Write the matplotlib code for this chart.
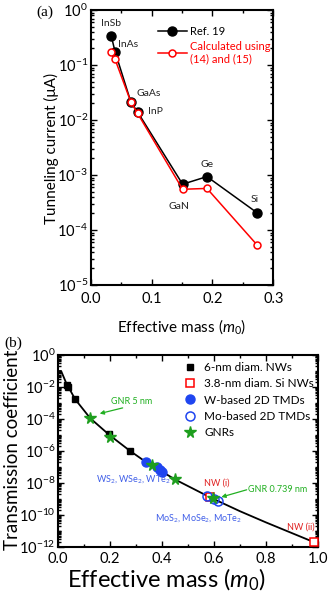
import numpy as np
import matplotlib
matplotlib.use("Agg")
import matplotlib.pyplot as plt
from matplotlib.ticker import FixedLocator, LogLocator, MultipleLocator, FuncFormatter, NullFormatter

plt.rcParams["font.family"] = ["Lato", "DejaVu Sans"]
plt.rcParams["mathtext.fontset"] = "custom"
plt.rcParams["mathtext.rm"] = "Lato"
plt.rcParams["mathtext.it"] = "Lato:italic"

# ---- panel (a) data ----
materials = ["InSb", "InAs", "GaAs", "InP", "GaN", "Ge", "Si"]
mass_a = [0.034, 0.040, 0.066, 0.077, 0.151, 0.191, 0.273]
ref19 = [0.33, 0.175, 0.0212, 0.014, 6.8e-4, 9.35e-4, 2.07e-4]
calc = [0.175, 0.127, 0.0212, 0.0132, 5.5e-4, 5.7e-4, 5.4e-5]

# ---- panel (b) data ----
curve_m = [0.0, 0.012, 0.034, 0.040, 0.066, 0.124, 0.195, 0.201, 0.276,
           0.34, 0.40, 0.45, 0.585, 0.70, 0.80, 0.985]
curve_logT = [-1.0, -1.0, -1.85, -2.0, -2.77, -3.96, -4.97, -5.05, -5.99,
              -6.72, -7.3, -7.79, -8.91, -9.78, -10.48, -11.72]
nw6_m = [0.034, 0.040, 0.066, 0.195, 0.276]
nw6_logT = [-1.85, -2.0, -2.77, -4.97, -5.99]
si38_m = [0.585, 0.985]
si38_logT = [-8.91, -11.72]
w_m = [0.340, 0.379, 0.392, 0.401]
w_logT = [-6.72, -7.03, -7.2, -7.31]
mo_m = [0.573, 0.60, 0.614]
mo_logT = [-8.83, -9.0, -9.14]
gnr_m = [0.124, 0.201, 0.362, 0.45, 0.595]
gnr_logT = [-3.96, -5.11, -6.89, -7.79, -8.97]

W, H = 329, 595
fig = plt.figure(figsize=(W / 100, H / 100), dpi=100)


def box(l, t, r, b):
    return [l / W, 1 - b / H, (r - l) / W, (b - t) / H]


def style_axes(ax):
    for s in ax.spines.values():
        s.set_linewidth(1.5)
    ax.tick_params(which="both", direction="in", top=True, right=True, width=1.0)
    ax.tick_params(which="major", length=4)
    ax.tick_params(which="minor", length=2)


# ================= (a) =================
ax1 = fig.add_axes(box(90.7, 10, 273.3, 285))
ax1.plot(mass_a, ref19, "-o", color="black", lw=1.1, ms=6.5, label="Ref. 19")
ax1.plot(mass_a, calc, "-o", color="red", lw=1.1, ms=5, mfc="white", mec="red",
         mew=1.1, label="Calculated using\n(14) and (15)")
ax1.set_yscale("log")
ax1.set_xlim(0, 0.3)
ax1.set_ylim(1e-5, 1)
ax1.xaxis.set_major_locator(MultipleLocator(0.1))
ax1.xaxis.set_minor_locator(MultipleLocator(0.05))
ax1.yaxis.set_minor_locator(LogLocator(base=10, subs=np.arange(2, 10), numticks=100))
ax1.yaxis.set_minor_formatter(NullFormatter())
ax1.xaxis.set_major_formatter(FuncFormatter(lambda v, p: f"{v:.1f}"))
style_axes(ax1)
ax1.tick_params(labelsize=10.5, pad=2)
ax1.tick_params(axis="x", pad=5)
ax1.set_ylabel("Tunneling current (\u03bcA)", fontsize=11)
ax1.yaxis.set_label_coords(59 / W, 1 - 148 / H, transform=fig.transFigure)
ax1.set_xlabel("Effective mass ($m_0$)", fontsize=11)
ax1.xaxis.set_label_coords(182 / W, 1 - 317 / H, transform=fig.transFigure)

offsets = [(0, 13), (13, 7), (18, 9), (18, 0), (-4, -22), (0, 12), (-2, 13)]
for name, x, y, off in zip(materials, mass_a, ref19, offsets):
    ax1.annotate(name, (x, y), xytext=off, textcoords="offset pixels",
                 ha="center", va="center", fontsize=7.5, color="#222222")

leg1 = ax1.legend(loc="upper left", bbox_to_anchor=(158 / W, 1 - 26 / H),
                  bbox_transform=fig.transFigure, frameon=False, fontsize=8,
                  handlelength=2.6, handletextpad=0.3, borderpad=0,
                  borderaxespad=0, labelspacing=0.35)
leg1.get_texts()[1].set_color("red")

fig.text(45 / W, 1 - 12 / H, "(a)", family="Liberation Serif", fontsize=11,
         ha="center", va="center")

# ================= (b) =================
ax2 = fig.add_axes(box(58, 355, 318, 546.7))
ax2.plot(curve_m, 10.0 ** np.array(curve_logT), color="black", lw=1.3, zorder=2)
ax2.plot(nw6_m, 10.0 ** np.array(nw6_logT), "s", color="black", ms=4,
         ls="none", label="6-nm diam. NWs", zorder=3)
ax2.plot(si38_m, 10.0 ** np.array(si38_logT), "s", color="red", mfc="white",
         mec="red", mew=1.1, ms=6, ls="none", label="3.8-nm diam. Si NWs", zorder=3)
ax2.plot(w_m, 10.0 ** np.array(w_logT), "o", color="#1f45f0", ms=6.5,
         ls="none", label="W-based 2D TMDs", zorder=3)
ax2.plot(mo_m, 10.0 ** np.array(mo_logT), "o", mfc="none", mec="#1f45f0",
         mew=1.1, ms=6.5, ls="none", label="Mo-based 2D TMDs", zorder=3)
ax2.plot(gnr_m, 10.0 ** np.array(gnr_logT), "*", color="#1e9e1e", ms=8.5,
         ls="none", label="GNRs", zorder=4)
ax2.set_yscale("log")
ax2.set_xlim(0, 1.0)
ax2.set_ylim(1e-12, 1)
ax2.xaxis.set_major_locator(MultipleLocator(0.2))
ax2.xaxis.set_minor_locator(MultipleLocator(0.1))
ax2.xaxis.set_major_formatter(FuncFormatter(lambda v, p: f"{v:.1f}"))
ax2.yaxis.set_major_locator(FixedLocator(10.0 ** np.arange(-12, 1, 2)))
ax2.yaxis.set_minor_locator(LogLocator(base=10, subs=np.arange(1, 10), numticks=100))
ax2.yaxis.set_minor_formatter(NullFormatter())
style_axes(ax2)
ax2.tick_params(labelsize=10.5, pad=2)
ax2.tick_params(axis="x", pad=4)
ax2.set_ylabel("Transmission coefficient", fontsize=13.5)
ax2.yaxis.set_label_coords(21 / W, 1 - 450 / H, transform=fig.transFigure)
ax2.set_xlabel("Effective mass ($m_0$)", fontsize=17)
ax2.xaxis.set_label_coords(166 / W, 1 - 567 / H, transform=fig.transFigure)

ax2.legend(loc="upper left", bbox_to_anchor=(184 / W, 1 - 362 / H),
           bbox_transform=fig.transFigure, frameon=False, fontsize=8.5,
           handlelength=1.0, handletextpad=0.7, borderpad=0,
           borderaxespad=0, labelspacing=0.45)

green = "#22b022"
ax2.annotate("", xy=(0.15, 10 ** -3.71), xytext=(0.259, 10 ** -3.27),
             arrowprops=dict(arrowstyle="-|>", color=green, lw=0.9,
                             mutation_scale=6))
ax2.text(0.285, 10 ** -2.92, "GNR 5 nm", color=green, fontsize=6.5,
         ha="center", va="center")
ax2.annotate("", xy=(0.618, 10 ** -8.94), xytext=(0.736, 10 ** -8.39),
             arrowprops=dict(arrowstyle="-|>", color=green, lw=0.9,
                             mutation_scale=6))
ax2.text(0.846, 10 ** -8.39, "GNR 0.739 nm", color=green, fontsize=6.5,
         ha="center", va="center")
ax2.text(0.609, 10 ** -8.0, "NW (i)", color="#e02020", fontsize=6.5,
         ha="center", va="center")
ax2.text(0.932, 10 ** -10.75, "NW (ii)", color="#e02020", fontsize=6.5,
         ha="center", va="center")
ax2.text(0.29, 10 ** -7.76, "WS$_2$, WSe$_2$, WTe$_2$", color="#3f5ee8",
         fontsize=6.5, ha="center", va="center")
ax2.text(0.542, 10 ** -10.23, "MoS$_2$, MoSe$_2$, MoTe$_2$", color="#3f5ee8",
         fontsize=6.5, ha="center", va="center")

fig.text(13 / W, 1 - 343 / H, "(b)", family="Liberation Serif", fontsize=11,
         ha="center", va="center")

fig.savefig("out.png", dpi=100)
